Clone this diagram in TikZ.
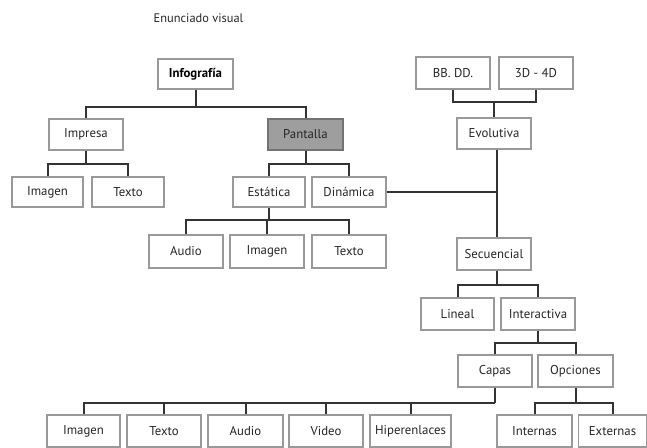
\documentclass[tikz,border=0pt]{standalone}
\usepackage{fontspec}
\setmainfont{PT Sans}
\begin{document}
\begin{tikzpicture}[x=0.75pt,y=-0.75pt,
  box/.style={draw=black!40,line width=0.8pt,fill=white,minimum width=74*0.75pt,minimum height=31*0.75pt,inner sep=0pt,font=\fontsize{9.6}{11}\selectfont,text=black!85},
  conn/.style={draw=black!80,line width=1.5pt}]
\useasboundingbox (0,0) rectangle (647,448);
\node[font=\fontsize{9.3}{11}\selectfont,text=black!85] (title) at (198.5,18) {Enunciado visual};
% nodes
\node[box,font=\fontsize{9.6}{11}\selectfont\bfseries,text=black,minimum width=75*0.75pt,minimum height=30*0.75pt] (info) at (195.5,74) {Infografía};
\node[box] (impresa) at (86,134.5) {Impresa};
\node[box,fill=black!38,draw=black!55,minimum width=75*0.75pt] (pantalla) at (305.5,134.5) {Pantalla};
\node[box,minimum width=71*0.75pt,minimum height=30*0.75pt] (imagen1) at (47.5,192) {Imagen};
\node[box,minimum width=72*0.75pt,minimum height=30*0.75pt] (texto1) at (128,192) {Texto};
\node[box,minimum width=72*0.75pt,minimum height=30*0.75pt] (estatica) at (269,192) {Estática};
\node[box,minimum height=30*0.75pt] (dinamica) at (349,192) {Dinámica};
\node[box,minimum height=33*0.75pt] (audio2) at (186,251.5) {Audio};
\node[box,minimum height=33*0.75pt] (imagen2) at (267,251.5) {Imagen};
\node[box,minimum height=33*0.75pt] (texto2) at (349,251.5) {Texto};
\node[box,minimum height=32*0.75pt] (bbdd) at (453,73) {BB. DD.};
\node[box,minimum height=32*0.75pt] (d34) at (536,73) {3D - 4D};
\node[box] (evol) at (494,133.5) {Evolutiva};
\node[box,minimum height=32*0.75pt] (secu) at (494,254) {Secuencial};
\node[box,minimum width=73*0.75pt,minimum height=32*0.75pt] (lineal) at (457.5,314) {Lineal};
\node[box,minimum height=32*0.75pt] (inter) at (538,314) {Interactiva};
\node[box,minimum height=32*0.75pt] (capas) at (495,371) {Capas};
\node[box,minimum width=75*0.75pt,minimum height=32*0.75pt] (opciones) at (575.5,371) {Opciones};
\node[box,minimum width=73*0.75pt,minimum height=32*0.75pt] (imagen3) at (83.5,431) {Imagen};
\node[box,minimum height=32*0.75pt] (texto3) at (164,431) {Texto};
\node[box,minimum width=75*0.75pt,minimum height=32*0.75pt] (audio3) at (245.5,431) {Audio};
\node[box,minimum height=32*0.75pt] (video3) at (326,431) {Video};
\node[box,minimum width=81*0.75pt,minimum height=32*0.75pt] (hiper) at (410.5,431) {Hiperenlaces};
\node[box,minimum width=75*0.75pt,minimum height=32*0.75pt] (internas) at (534.5,431) {Internas};
\node[box,minimum width=68*0.75pt,minimum height=32*0.75pt] (externas) at (612.5,431) {Externas};
% bus coordinates
\coordinate (b1) at (195.5,107);
\coordinate (b2) at (86,164);
\coordinate (b3) at (305.5,164);
\coordinate (b4) at (269,220);
\coordinate (b5) at (494,102);
\coordinate (b6) at (497,192);
\coordinate (b7) at (497,285);
\coordinate (b8) at (538,343);
\coordinate (b9) at (495,403);
\coordinate (b10) at (575.5,403);
% connectors
\draw[conn] (info.south) -- (b1);
\draw[conn] (impresa.north) |- (b1) -| (pantalla.north);
\draw[conn] (impresa.south) -- (b2);
\draw[conn] (imagen1.north) |- (b2) -| (texto1.north);
\draw[conn] (pantalla.south) -- (b3);
\draw[conn] (estatica.north) |- (b3) -| (dinamica.north);
\draw[conn] (estatica.south) -- (b4);
\draw[conn] (audio2.north) |- (b4) -| (texto2.north);
\draw[conn] (imagen2.north) -- (imagen2.north |- b4);
\draw[conn] (bbdd.south) |- (b5) -| (d34.south);
\draw[conn] (b5) -- (evol.north);
\draw[conn] (evol.south -| b6) -- (secu.north -| b6);
\draw[conn] (dinamica.east) -- (b6);
\draw[conn] (secu.south -| b7) -- (b7);
\draw[conn] (lineal.north) |- (b7) -| (inter.north);
\draw[conn] (inter.south) -- (b8);
\draw[conn] (capas.north) |- (b8) -| (opciones.north);
\draw[conn] (capas.south) -- (b9);
\draw[conn] (imagen3.north) |- (b9);
\draw[conn] (texto3.north) -- (texto3.north |- b9);
\draw[conn] (audio3.north) -- (audio3.north |- b9);
\draw[conn] (video3.north) -- (video3.north |- b9);
\draw[conn] (hiper.north) -- (hiper.north |- b9);
\draw[conn] (opciones.south) -- (b10);
\draw[conn] (internas.north) |- (b10) -| (externas.north);
\end{tikzpicture}
\end{document}
